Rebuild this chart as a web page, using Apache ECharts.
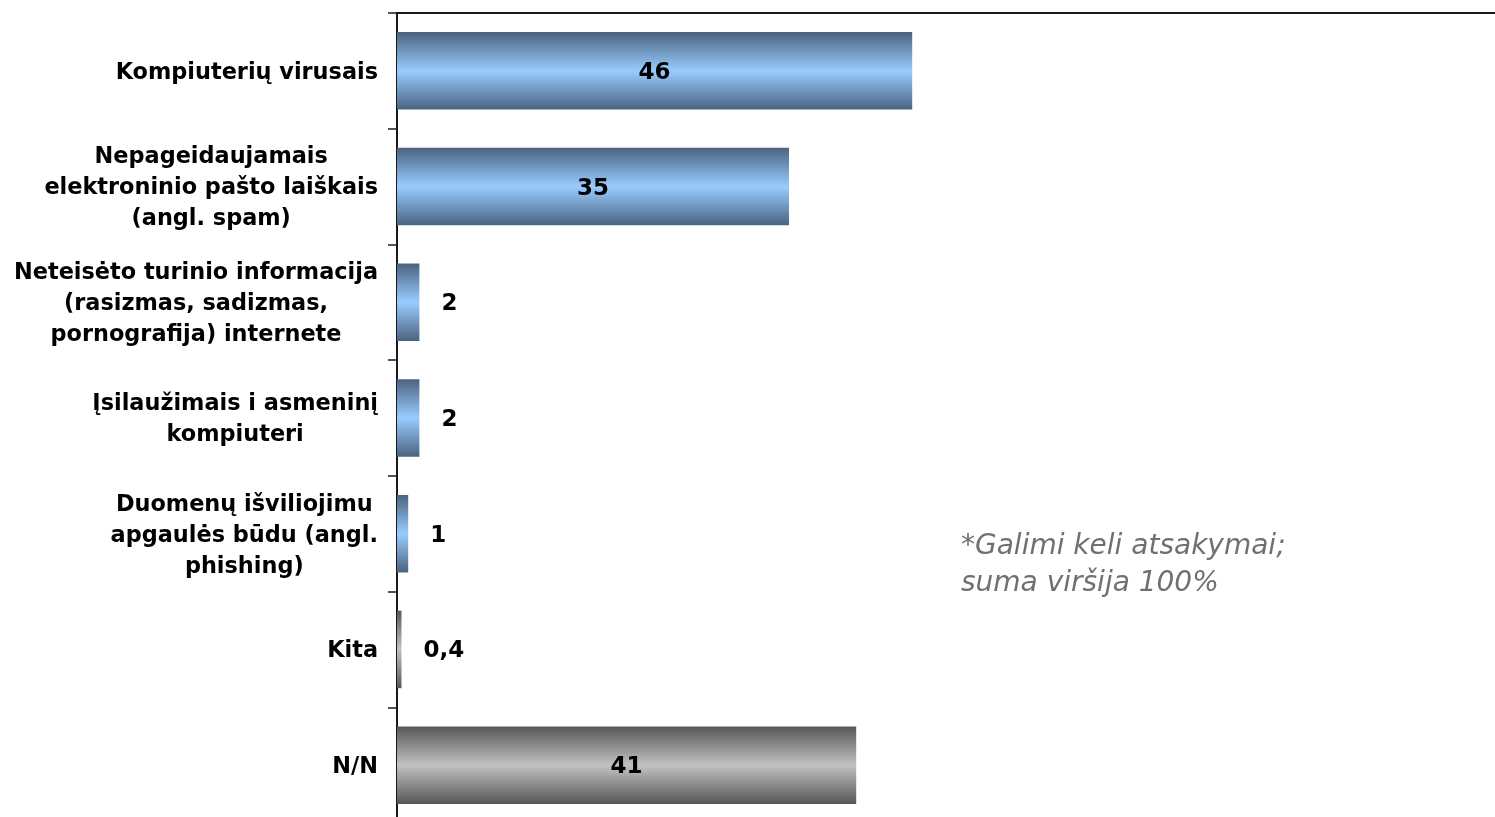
<!DOCTYPE html>
<html>
<head>
<meta charset="utf-8">
<script src="https://cdn.jsdelivr.net/npm/echarts@6/dist/echarts.min.js"></script>
<style>
  html, body { margin: 0; padding: 0; background: #fff; overflow: hidden; }
  #chart { width: 1520px; height: 830px; }
</style>
</head>
<body>
<div id="chart"></div>
<script>
var categories = [
  'Kompiuterių virusais',
  'Nepageidaujamais\nelektroninio pašto laiškais\n(angl. spam)',
  'Neteisėto turinio informacija\n(rasizmas, sadizmas,\npornografija) internete',
  'Įsilaužimais i asmeninį\nkompiuteri',
  'Duomenų išviliojimu\napgaulės būdu (angl.\nphishing)',
  'Kita',
  'N/N'
];
var values = [46, 35, 2, 2, 1, 0.4, 41];
var grayCategories = ['Kita', 'N/N'];
var noteText = '*Galimi keli atsakymai;\nsuma viršija 100%';

var font = 'DejaVu Sans, Verdana, sans-serif';

function barGradient(dark, light) {
  return new echarts.graphic.LinearGradient(0, 0, 0, 1, [
    { offset: 0, color: dark },
    { offset: 0.5, color: light },
    { offset: 1, color: dark }
  ]);
}

var seriesData = values.map(function (v, i) {
  var gray = grayCategories.indexOf(categories[i]) >= 0;
  return {
    value: v,
    itemStyle: {
      color: gray ? barGradient('#565656', '#c2c2c2') : barGradient('#4a6380', '#99ccff')
    },
    label: v > 10 ? { position: 'inside' } : { position: 'right', distance: 22 }
  };
});

var chart = echarts.init(document.getElementById('chart'));
chart.setOption({
  animation: false,
  grid: { left: 397, top: 13, width: 1120, height: 810 },
  xAxis: {
    type: 'value',
    position: 'top',
    min: 0,
    max: 100,
    axisLine: { show: true, lineStyle: { color: '#1a1a1a', width: 2 } },
    axisTick: { show: false },
    axisLabel: { show: false },
    splitLine: { show: false }
  },
  yAxis: {
    type: 'category',
    inverse: true,
    data: categories,
    axisLine: { show: true, lineStyle: { color: '#1a1a1a', width: 2 } },
    axisTick: { show: true, length: 9, lineStyle: { color: '#1a1a1a', width: 1.5 } },
    axisLabel: {
      interval: 0,
      margin: 19,
      padding: [4, 0, 0, 0],
      formatter: function (v) { return '{a|' + v + '}'; },
      rich: {
        a: {
          align: 'center',
          fontFamily: font,
          fontWeight: 'bold',
          fontSize: 22.4,
          lineHeight: 31,
          color: '#000'
        }
      }
    }
  },
  series: [{
    type: 'bar',
    data: seriesData,
    barCategoryGap: '33%',
    label: {
      show: true,
      offset: [0, 2],
      fontFamily: font,
      fontWeight: 'bold',
      fontSize: 23,
      color: '#000',
      formatter: function (p) { return String(p.value).replace('.', ','); }
    }
  }],
  graphic: [{
    type: 'text',
    left: 961,
    top: 528,
    style: {
      text: noteText,
      fontFamily: font,
      fontStyle: 'italic',
      fontSize: 28,
      lineHeight: 37,
      fill: '#707070'
    }
  }]
});
</script>
</body>
</html>
